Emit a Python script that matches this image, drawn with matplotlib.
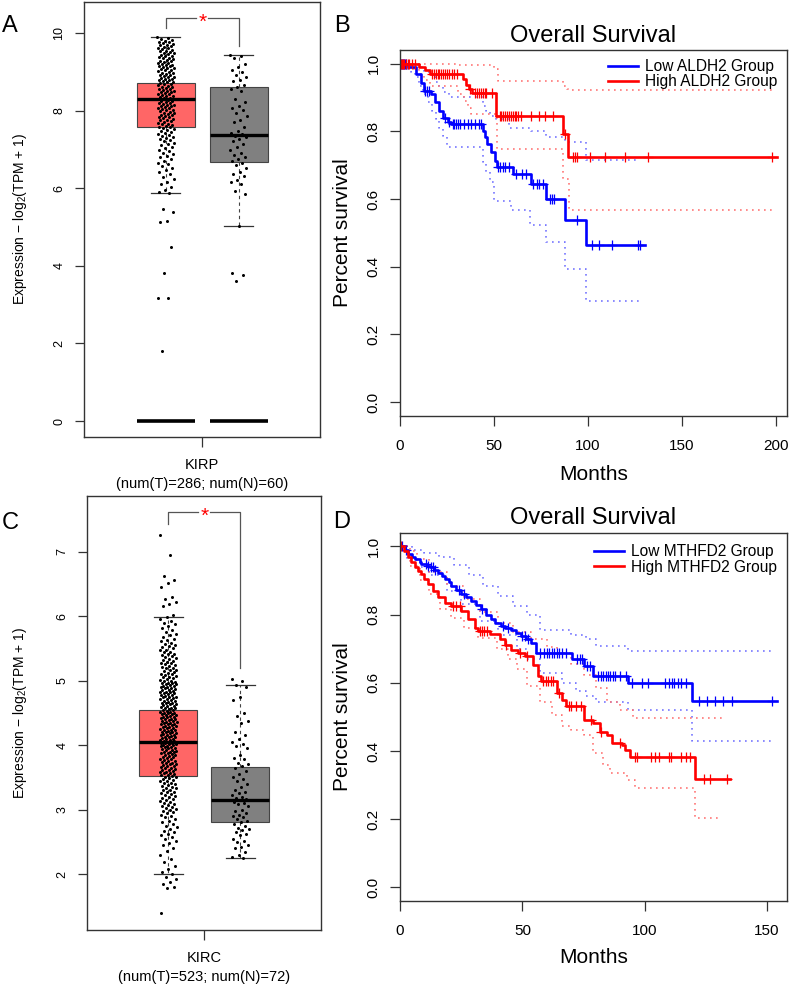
import numpy as np
import matplotlib
matplotlib.use("Agg")
import matplotlib.pyplot as plt
from matplotlib.lines import Line2D

plt.rcParams['font.family'] = ['Liberation Sans', 'DejaVu Sans']
plt.rcParams['mathtext.fontset'] = 'custom'
plt.rcParams['mathtext.rm'] = 'Liberation Sans'
plt.rcParams['mathtext.it'] = 'Liberation Sans:italic'
plt.rcParams['mathtext.bf'] = 'Liberation Sans:bold'


def vals(s):
    return [float(v) for v in s.split()]


# ---------------- DATA ----------------
# Panel A : KIRP expression (box stats: lower whisker, Q1, median, Q3, upper whisker)
A_category = "KIRP"
A_counts = "(num(T)=286; num(N)=60)"
A_tumor_box = [5.87, 7.57, 8.30, 8.72, 9.90]
A_normal_box = [5.03, 6.68, 7.38, 8.60, 9.43]
A_zero_level = 0.0
A_tumor_points = vals("""
9.89 9.87 9.85 9.83 9.80 9.78 9.77 9.74 9.72 9.70 9.69 9.66 9.64 9.62 9.61 9.58 9.56 9.55 9.53 9.51
9.49 9.48 9.46 9.43 9.42 9.40 9.38 9.36 9.35 9.33 9.31 9.29 9.28 9.26 9.24 9.23 9.21 9.19 9.17 9.16
9.14 9.12 9.10 9.09 9.07 9.05 9.04 9.02 9.00 8.98 8.97 8.95 8.93 8.91 8.90 8.88 8.86 8.85 8.83 8.81
8.79 8.78 8.76 8.74 8.73 8.71 8.69 8.68 8.66 8.64 8.62 8.61 8.59 8.57 8.56 8.54 8.52 8.50 8.49 8.47
8.45 8.44 8.42 8.40 8.38 8.37 8.35 8.33 8.32 8.30 8.28 8.26 8.25 8.23 8.21 8.20 8.18 8.16 8.14 8.13
8.11 8.09 8.08 8.06 8.04 8.02 8.01 7.99 7.97 7.95 7.94 7.92 7.90 7.88 7.86 7.84 7.83 7.81 7.79 7.77
7.75 7.73 7.71 7.69 7.67 7.65 7.63 7.61 7.59 7.57 7.55 7.53 7.50 7.48 7.46 7.43 7.41 7.38 7.36 7.33
7.30 7.27 7.24 7.21 7.18 7.14 7.11 7.07 7.04 7.00 6.96 6.92 6.88 6.84 6.80 6.75 6.71 6.66 6.62 6.57
6.52 6.47 6.42 6.36 6.30 6.24 6.17 6.10 6.03 5.96 5.90 5.87 5.47 5.38 5.16 5.12 4.48 3.81 3.17 3.16 1.81
""")
A_normal_points = vals("""
9.43 9.41 9.36 9.21 9.12 9.06 9.01 8.93 8.86 8.80 8.76 8.66 8.61 8.57 8.52 8.31 8.22 8.12 8.06 8.01
7.93 7.86 7.76 7.71 7.57 7.47 7.42 7.39 7.36 7.31 7.26 7.21 7.14 7.06 6.98 6.91 6.85 6.81 6.76 6.71
6.66 6.61 6.52 6.41 6.36 6.31 6.22 6.16 6.12 5.92 5.86 5.03 3.81 3.77 3.62
""")

# Panel C : KIRC expression
C_category = "KIRC"
C_counts = "(num(T)=523; num(N)=72)"
C_tumor_box = [2.00, 3.52, 4.05, 4.55, 5.98]
C_normal_box = [2.25, 2.80, 3.15, 3.66, 4.93]
C_tumor_points = vals("""
7.25 6.95 6.62 6.56 6.52 6.45 6.29 6.27 6.22 6.18 6.15 6.02 5.98 5.96
5.93 5.90 5.87 5.84 5.81 5.78 5.75 5.72 5.70 5.67 5.65 5.63 5.61 5.59 5.57 5.55 5.53 5.52 5.50
5.48 5.47 5.45 5.44 5.42 5.41 5.39 5.38 5.36 5.35 5.34 5.32 5.31 5.29 5.28 5.27 5.25 5.24 5.23 5.21
5.20 5.19 5.17 5.16 5.15 5.13 5.12 5.11 5.10 5.08 5.07 5.06 5.05 5.04 5.02 5.01 5.00
4.99 4.98 4.97 4.97 4.96 4.95 4.94 4.93 4.92 4.91 4.90 4.90 4.89 4.88 4.87 4.86 4.85 4.84 4.83 4.82
4.82 4.81 4.80 4.79 4.78 4.77 4.76 4.75 4.74 4.74 4.73 4.72 4.71 4.70 4.69 4.68 4.67 4.66 4.66 4.65
4.64 4.63 4.62 4.61 4.60 4.59 4.58 4.58 4.57 4.56 4.55 4.54 4.53 4.52 4.51 4.50 4.50
4.49 4.48 4.48 4.47 4.46 4.45 4.44 4.44 4.43 4.42 4.41 4.40 4.40 4.39 4.38 4.37 4.36 4.36 4.35 4.34
4.33 4.32 4.32 4.31 4.30 4.29 4.28 4.28 4.27 4.26 4.25 4.24 4.24 4.23 4.22 4.21 4.20 4.20 4.19 4.18
4.17 4.16 4.16 4.15 4.14 4.13 4.12 4.12 4.11 4.10 4.09 4.08 4.08 4.07 4.06 4.05 4.04 4.04 4.03 4.02
4.01 4.00 4.00
3.99 3.98 3.97 3.97 3.96 3.95 3.94 3.93 3.92 3.91 3.90 3.90 3.89 3.88 3.87 3.86 3.85 3.84 3.83 3.82
3.81 3.80 3.79 3.78 3.77 3.76 3.75 3.74 3.73 3.72 3.71 3.70 3.69 3.68 3.67 3.66 3.65 3.64 3.63 3.62
3.61 3.60 3.59 3.58 3.57 3.56 3.55 3.54 3.53 3.52 3.51 3.50
3.49 3.48 3.46 3.45 3.44 3.42 3.41 3.40 3.38 3.37 3.35 3.34 3.33 3.31 3.30 3.28 3.27 3.25 3.24 3.22
3.21 3.19 3.18 3.16 3.15 3.13 3.12 3.10 3.09 3.07 3.06 3.04 3.03 3.01 3.00
2.98 2.96 2.94 2.92 2.90 2.88 2.85 2.83 2.80 2.78 2.75 2.73 2.70 2.67 2.65 2.62 2.60 2.57 2.55 2.52
2.48 2.45 2.40 2.36 2.30 2.24 2.18 2.12 2.08 2.03 2.00
1.95 1.92 1.88 1.85 1.80 1.78 1.40
""")
C_normal_points = vals("""
5.03 5.00 4.93 4.90 4.75 4.70 4.50 4.45 4.38 4.35 4.20 4.15 4.10 4.05 4.02 3.98 3.95 3.85 3.80 3.78
3.72 3.70 3.68 3.65 3.60 3.55 3.50 3.48 3.45 3.40 3.35 3.30 3.28 3.25 3.22 3.20 3.18 3.16 3.15 3.12
3.10 3.08 3.05 3.00 2.98 2.95 2.92 2.90 2.88 2.85 2.82 2.80 2.78 2.75 2.72 2.70 2.68 2.65 2.62 2.60
2.55 2.52 2.50 2.45 2.42 2.40 2.35 2.30 2.26 2.25
""")

# Panel B : ALDH2 survival (step times / survival after step), censor times, CI bands
B_labels = ["Low ALDH2 Group", "High ALDH2 Group"]
B_low_t = [0, 4.3, 8.5, 11, 13, 16.5, 18.5, 21, 23, 25.5, 27, 44, 45, 46.5, 48.6, 50.4, 51.5, 60, 70, 78, 88, 99]
B_low_s = [1.0, 0.99, 0.97, 0.943, 0.919, 0.909, 0.885, 0.86, 0.84, 0.826, 0.821, 0.80, 0.782, 0.762, 0.738, 0.713, 0.694, 0.674, 0.645, 0.60, 0.539, 0.464]
B_low_end = 130.5
B_low_censor = [0.5, 1, 1.5, 2, 2.5, 3, 13.5, 14.5, 15.5, 24, 26, 28, 29, 30, 31, 32, 34, 36, 38, 40, 42, 43,
                52, 53, 55, 56, 58, 62, 65, 67, 71, 73, 74, 76, 80, 81, 82, 94, 102, 106, 112.7, 126.6, 127.8]
B_low_up_t = [0, 11, 13, 17, 19, 21, 23, 26, 44, 46, 48, 51, 58, 70, 78, 88, 99]
B_low_up_s = [1.0, 0.99, 0.975, 0.96, 0.945, 0.93, 0.915, 0.90, 0.875, 0.86, 0.845, 0.835, 0.81, 0.80, 0.782, 0.767, 0.716]
B_low_lo_t = [0, 4, 6, 8, 10, 12, 15, 17, 19, 21, 23, 25, 44, 46, 48, 50, 59, 69, 78, 88, 99]
B_low_lo_s = [1.0, 0.985, 0.975, 0.96, 0.935, 0.91, 0.885, 0.86, 0.835, 0.81, 0.785, 0.755, 0.71, 0.68, 0.65, 0.595, 0.567, 0.523, 0.474, 0.394, 0.30]
B_low_ci_end = 128

B_high_t = [0, 10, 13.1, 15.8, 33.5, 35.3, 37, 38.3, 51.3, 86.8, 89.5]
B_high_s = [1.0, 0.99, 0.982, 0.968, 0.953, 0.938, 0.924, 0.914, 0.846, 0.792, 0.723]
B_high_end = 200.5
B_high_censor = [0.3, 0.8, 1.5, 2.2, 3, 4, 5, 6.5, 8, 17, 18, 19, 20, 21, 22, 23, 24, 25, 26, 27.5, 29, 30.5,
                 37.5, 40, 41, 42, 43, 44, 45, 46, 49, 53, 54, 55, 56, 57, 58, 59, 60, 61, 62, 63, 64.5, 70, 74,
                 77, 81.4, 88, 92, 93, 94, 101, 109, 120, 132, 198]
B_high_up_t = [0, 31, 50, 52, 87, 89, 91]
B_high_up_s = [1.0, 0.995, 0.985, 0.948, 0.935, 0.925, 0.922]
B_high_lo_t = [0, 6, 10, 13, 16, 31, 34, 36, 38, 51.5, 87, 90]
B_high_lo_s = [1.0, 0.985, 0.97, 0.95, 0.934, 0.91, 0.89, 0.87, 0.85, 0.748, 0.66, 0.568]
B_high_ci_end = 198
B_xticks = [0, 50, 100, 150, 200]

# Panel D : MTHFD2 survival
D_labels = ["Low MTHFD2 Group", "High MTHFD2 Group"]
D_low_t = [0, 2, 3.3, 5, 6, 8, 8.7, 11, 12.1, 14, 15.5, 17, 18.3, 20, 21, 23, 25, 27, 29, 31,
           33, 35, 37, 39, 41.4, 43, 45.5, 47.5, 49.6, 51.5, 53.7, 55.7, 70.2, 75, 79, 93.3, 119.2]
D_low_s = [1.0, 0.99, 0.977, 0.97, 0.963, 0.955, 0.948, 0.943, 0.938, 0.93, 0.923, 0.914, 0.904, 0.894, 0.884,
           0.872, 0.86, 0.85, 0.84, 0.828, 0.815, 0.80, 0.786, 0.776, 0.766, 0.761, 0.756, 0.747, 0.737, 0.727,
           0.717, 0.688, 0.67, 0.648, 0.62, 0.60, 0.547]
D_low_end = 154
D_low_censor = [1, 2.5, 10.6, 11.5, 12.5, 13.5, 14.5, 24, 26, 33.5, 42, 44, 50, 51, 52.5, 57, 59, 60, 61, 62, 63,
                64, 65, 66, 68, 72.2, 73.5, 74.2, 76.3, 77.5, 81, 82, 83, 84, 85, 86, 87, 88, 90, 92.5, 94.7, 98.8,
                101.5, 108.3, 110, 111, 112, 113.5, 115, 117, 122, 125.3, 128.7, 132.1, 135.5, 152]
D_low_up_t = [0, 5, 10, 16, 22, 28, 34, 40, 46, 52, 57, 70, 76, 80, 93]
D_low_up_s = [1.0, 0.99, 0.98, 0.968, 0.945, 0.915, 0.885, 0.855, 0.825, 0.80, 0.756, 0.74, 0.727, 0.709, 0.692]
D_low_lo_t = [0, 3, 8, 12, 19, 25, 32.7, 40, 47.7, 52, 57, 66, 72, 76, 80, 93, 119.2]
D_low_lo_s = [1.0, 0.96, 0.938, 0.915, 0.869, 0.83, 0.78, 0.74, 0.70, 0.67, 0.63, 0.60, 0.575, 0.56, 0.545, 0.52, 0.43]
D_low_ci_end = 153

D_high_t = [0, 1.5, 3.3, 4.5, 6, 7.5, 8.7, 10, 11.4, 13.5, 15.5, 18.3, 21, 25, 27.8, 30.5, 31.9, 36.7, 40.8,
            42.8, 45.5, 48.2, 51, 54.4, 56.4, 57.7, 64, 66, 68, 75, 79, 81.7, 84.5, 86.5, 90.6, 92, 94, 120.6]
D_high_s = [1.0, 0.985, 0.968, 0.955, 0.938, 0.928, 0.918, 0.905, 0.889, 0.869, 0.85, 0.835, 0.825, 0.81, 0.786,
            0.761, 0.751, 0.742, 0.728, 0.712, 0.697, 0.688, 0.678, 0.653, 0.619, 0.604, 0.57, 0.55, 0.533, 0.491,
            0.482, 0.457, 0.447, 0.423, 0.418, 0.403, 0.383, 0.317]
D_high_end = 134.9
D_high_censor = [0.5, 21.5, 23, 24.5, 32.5, 33.5, 34.5, 35.5, 43.5, 49, 52, 58.6, 59.5, 60.5, 61.5, 62.7, 65, 69,
                 70, 72, 74, 78, 82, 89.7, 96, 96.7, 102.7, 104, 106, 110.1, 110.8, 114.9, 117, 118.3, 124.3,
                 126.6, 133.5]
D_high_up_t = [0, 3, 6.8, 12, 19, 26, 32.7, 40, 46, 53.7, 60, 64, 70, 75, 80, 84.5, 90, 95]
D_high_up_s = [1.0, 0.985, 0.963, 0.925, 0.884, 0.845, 0.806, 0.775, 0.75, 0.727, 0.705, 0.688, 0.655, 0.624,
               0.585, 0.545, 0.52, 0.496]
D_high_lo_t = [0, 4, 8, 12, 16.3, 21, 26, 32, 39.5, 44, 47.7, 52, 57, 62, 66, 70, 75, 79, 83, 86, 92.6, 96, 120.6]
D_high_lo_s = [1.0, 0.943, 0.9, 0.86, 0.815, 0.79, 0.76, 0.73, 0.70, 0.67, 0.64, 0.59, 0.545, 0.505, 0.472, 0.46,
               0.447, 0.393, 0.36, 0.334, 0.315, 0.29, 0.202]
D_high_ci_end = 131.5
D_xticks = [0, 50, 100, 150]

# ---------------- STYLE ----------------
RED_BOX = '#FF6666'
GREY_BOX = '#808080'
BLUE = '#0000FF'
RED = '#FF0000'
BLUE_CI = '#7777FF'
RED_CI = '#FF7777'
FRAME = '#333333'

fig = plt.figure(figsize=(7.9, 9.84), dpi=100)
W, H = 790.0, 984.0


def px_axes(left, top, right, bottom):
    return fig.add_axes([left / W, 1 - bottom / H, (right - left) / W, (bottom - top) / H])


axA = px_axes(84, 1.7, 320, 437)
axB = px_axes(400, 50, 786.7, 415.7)
axC = px_axes(87, 495.5, 321, 930)
axD = px_axes(400, 532.7, 786.7, 901)


def style_frame(ax):
    for sp in ax.spines.values():
        sp.set_color(FRAME)
        sp.set_linewidth(1.0)
    ax.tick_params(colors=FRAME, labelcolor='black', width=0.9)


def box_panel(ax, tbox, nbox, tpts, npts, category, counts, ylim, yticks, bracket, zero=None):
    pos = [0.347, 0.655]
    w = 0.246
    stats = [dict(whislo=b[0], q1=b[1], med=b[2], q3=b[3], whishi=b[4], fliers=[]) for b in (tbox, nbox)]
    bp = ax.bxp(stats, positions=pos, widths=w, patch_artist=True, showfliers=False,
                capwidths=w / 2, manage_ticks=False,
                boxprops=dict(edgecolor='#444444', linewidth=0.8),
                whiskerprops=dict(color='#444444', linewidth=0.8, linestyle=(0, (3, 3))),
                capprops=dict(color='#333333', linewidth=0.9),
                medianprops=dict(color='black', linewidth=2.4, zorder=4),
                zorder=2)
    for patch, fc in zip(bp['boxes'], [RED_BOX, GREY_BOX]):
        patch.set_facecolor(fc)
    for p, pts in zip(pos, [tpts, npts]):
        n = len(pts)
        off = ((np.arange(n) * 0.6180339887) % 1.0 - 0.5) * 0.072
        ax.scatter(p + off, pts, s=4.8, color='black', linewidths=0, zorder=3)
    if zero is not None:
        for p in pos:
            ax.hlines(zero, p - w / 2, p + w / 2, color='black', linewidth=2.6, zorder=3)
    # significance bracket
    ytop, yl, yr = bracket
    gap = 0.025
    xm = 0.501
    ax.plot([pos[0], pos[0], xm - gap], [yl, ytop, ytop], color='#555555', lw=0.9, zorder=3)
    ax.plot([xm + gap, pos[1], pos[1]], [ytop, ytop, yr], color='#555555', lw=0.9, zorder=3)
    ax.annotate('*', xy=(xm, ytop), xytext=(0, -3.2), textcoords='offset points',
                color='red', fontsize=15, ha='center', va='center', zorder=5)
    ax.set_xlim(0, 1)
    ax.set_ylim(*ylim)
    ax.set_xticks([0.5])
    ax.set_xticklabels([category])
    ax.tick_params(axis='x', length=7, pad=8.2, labelsize=10.5)
    ax.set_xlabel(counts, fontsize=10.5)
    ax.xaxis.set_label_coords(0.5, -0.091)
    ax.set_yticks(yticks)
    ax.set_yticklabels([str(v) for v in yticks])
    ax.tick_params(axis='y', length=6.5, pad=6.9, labelsize=9, labelrotation=90)
    for t in ax.get_yticklabels():
        t.set_va('center')
    ax.set_ylabel(r'Expression $-$ log$_2$(TPM + 1)', fontsize=10)
    style_frame(ax)


box_panel(axA, A_tumor_box, A_normal_box, A_tumor_points, A_normal_points, A_category, A_counts,
          (-0.41, 10.81), [0, 2, 4, 6, 8, 10], (10.39, 10.13, 9.67), zero=A_zero_level)
axA.yaxis.set_label_coords(-0.233, 0.5)
box_panel(axC, C_tumor_box, C_normal_box, C_tumor_points, C_normal_points, C_category, C_counts,
          (1.133, 7.87), [2, 3, 4, 5, 6, 7], (7.61, 7.43, 5.19))
axC.yaxis.set_label_coords(-0.248, 0.5)


def step_line(ax, t, s, end, **kw):
    xs = np.r_[t, end]
    ys = np.r_[s, s[-1]]
    ax.step(xs, ys, where='post', **kw)


def km_panel(ax, groups, labels, xlim, xticks, leg_anchor, xlab_y):
    for g, color, ci_color in groups:
        t, s, end, cens, ut, us, lt, ls_, ci_end = g
        step_line(ax, ut, us, ci_end, color=ci_color, lw=1.2, linestyle=(0, (1, 2.6)))
        step_line(ax, lt, ls_, ci_end, color=ci_color, lw=1.2, linestyle=(0, (1, 2.6)))
    for g, color, ci_color in groups:
        t, s, end, cens, ut, us, lt, ls_, ci_end = g
        step_line(ax, t, s, end, color=color, lw=1.9)
        idx = np.searchsorted(np.asarray(t), np.asarray(cens), side='right') - 1
        ax.plot(cens, np.asarray(s)[idx], linestyle='none', marker='+', ms=7.5, mew=0.9, color=color)
    ax.set_xlim(*xlim)
    ax.set_ylim(-0.04, 1.04)
    ax.set_xticks(xticks)
    ax.set_yticks([0.0, 0.2, 0.4, 0.6, 0.8, 1.0])
    ax.set_yticklabels(['0.0', '0.2', '0.4', '0.6', '0.8', '1.0'])
    ax.tick_params(axis='x', length=7.2, pad=9.4, labelsize=11)
    ax.tick_params(axis='y', length=7.2, pad=6.9, labelsize=11, labelrotation=90)
    for tl in ax.get_yticklabels():
        tl.set_va('center')
    ax.set_title('Overall Survival', fontsize=17, pad=6)
    ax.set_xlabel('Months', fontsize=15)
    ax.xaxis.set_label_coords(0.5, xlab_y)
    ax.set_ylabel('Percent survival', fontsize=15)
    ax.yaxis.set_label_coords(-0.124, 0.5)
    handles = [Line2D([], [], color=BLUE, lw=1.9), Line2D([], [], color=RED, lw=1.9)]
    ax.legend(handles, labels, loc='upper right', bbox_to_anchor=leg_anchor, frameon=False,
              fontsize=11.2, handlelength=1.9, handletextpad=0.45, labelspacing=0.02,
              borderpad=0, borderaxespad=0)
    style_frame(ax)


km_panel(axB,
         [((B_low_t, B_low_s, B_low_end, B_low_censor, B_low_up_t, B_low_up_s, B_low_lo_t, B_low_lo_s, B_low_ci_end), BLUE, BLUE_CI),
          ((B_high_t, B_high_s, B_high_end, B_high_censor, B_high_up_t, B_high_up_s, B_high_lo_t, B_high_lo_s, B_high_ci_end), RED, RED_CI)],
         B_labels, (0, 205.9), B_xticks, (0.975, 0.975), -0.136)
km_panel(axD,
         [((D_low_t, D_low_s, D_low_end, D_low_censor, D_low_up_t, D_low_up_s, D_low_lo_t, D_low_lo_s, D_low_ci_end), BLUE, BLUE_CI),
          ((D_high_t, D_high_s, D_high_end, D_high_censor, D_high_up_t, D_high_up_s, D_high_lo_t, D_high_lo_s, D_high_ci_end), RED, RED_CI)],
         D_labels, (0, 158.0), D_xticks, (0.975, 0.968), -0.128)

# panel letters
for letter, x, y in [('A', 1.5, 32), ('B', 334, 32), ('C', 1.5, 529), ('D', 333, 528)]:
    fig.text(x / W, 1 - y / H, letter, fontsize=17, ha='left', va='baseline')

fig.savefig('out.png', dpi=100)
